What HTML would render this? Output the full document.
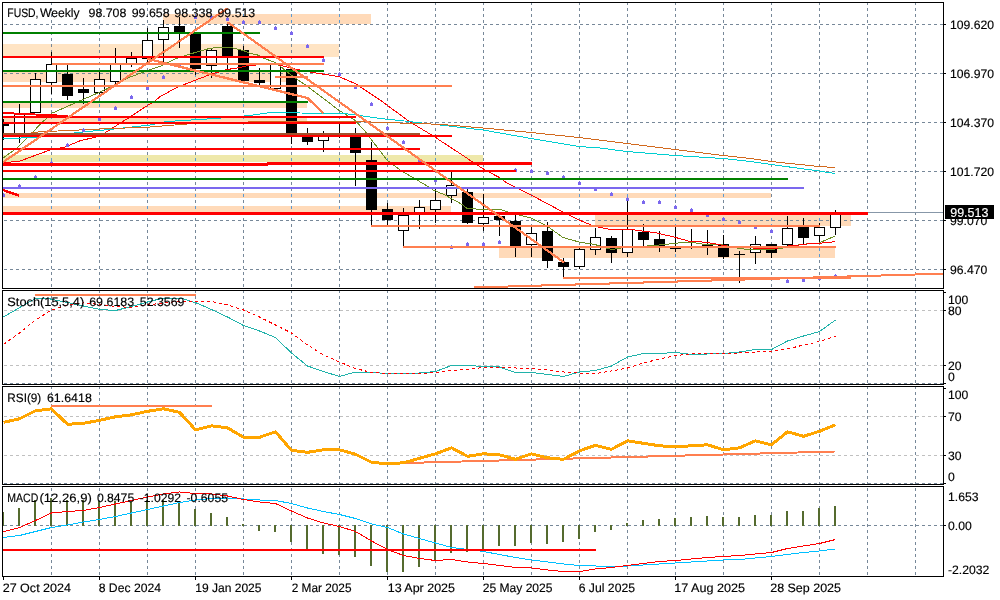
<!DOCTYPE html>
<html><head><meta charset="utf-8"><title>FUSD Weekly</title>
<style>html,body{margin:0;padding:0;background:#fff;overflow:hidden}svg{display:block}</style>
</head><body>
<svg width="1000" height="600" viewBox="0 0 1000 600" shape-rendering="crispEdges" font-family="'Liberation Sans', sans-serif" font-size="12.2px">
<rect x="0" y="0" width="1000" height="600" fill="#FFFFFF"/>
<defs>
<clipPath id="cp0"><rect x="3" y="3" width="940" height="285"/></clipPath>
<clipPath id="cp1"><rect x="3" y="291" width="940" height="93"/></clipPath>
<clipPath id="cp2"><rect x="3" y="387" width="940" height="97"/></clipPath>
<clipPath id="cp3"><rect x="3" y="487" width="940" height="89"/></clipPath>
</defs>
<g clip-path="url(#cp0)">
<rect x="163" y="14" width="208" height="10" fill="#FFDAB9"/>
<rect x="3" y="44" width="336" height="13" fill="#FFE4C4"/>
<rect x="3" y="72" width="288" height="10" fill="#FFDAB9"/>
<rect x="3" y="103" width="304" height="5" fill="#FFDAB9"/>
<rect x="3" y="118" width="304" height="4" fill="#FFDAB9"/>
<rect x="3" y="155" width="480" height="7" fill="#EEE8AA"/>
<rect x="3" y="193" width="768" height="5" fill="#FFDAB9"/>
<rect x="3" y="206" width="448" height="6" fill="#FFDAB9"/>
<rect x="499" y="248" width="336" height="10" fill="#FFDAB9"/>
<rect x="595" y="215" width="256" height="11" fill="#FFDAB9"/>
</g>
<line x1="51.5" y1="2" x2="51.5" y2="288" stroke="#778899" stroke-width="1" stroke-dasharray="3 3"/>
<line x1="99.5" y1="2" x2="99.5" y2="288" stroke="#778899" stroke-width="1" stroke-dasharray="3 3"/>
<line x1="147.5" y1="2" x2="147.5" y2="288" stroke="#778899" stroke-width="1" stroke-dasharray="3 3"/>
<line x1="195.5" y1="2" x2="195.5" y2="288" stroke="#778899" stroke-width="1" stroke-dasharray="3 3"/>
<line x1="243.5" y1="2" x2="243.5" y2="288" stroke="#778899" stroke-width="1" stroke-dasharray="3 3"/>
<line x1="291.5" y1="2" x2="291.5" y2="288" stroke="#778899" stroke-width="1" stroke-dasharray="3 3"/>
<line x1="339.5" y1="2" x2="339.5" y2="288" stroke="#778899" stroke-width="1" stroke-dasharray="3 3"/>
<line x1="387.5" y1="2" x2="387.5" y2="288" stroke="#778899" stroke-width="1" stroke-dasharray="3 3"/>
<line x1="435.5" y1="2" x2="435.5" y2="288" stroke="#778899" stroke-width="1" stroke-dasharray="3 3"/>
<line x1="483.5" y1="2" x2="483.5" y2="288" stroke="#778899" stroke-width="1" stroke-dasharray="3 3"/>
<line x1="531.5" y1="2" x2="531.5" y2="288" stroke="#778899" stroke-width="1" stroke-dasharray="3 3"/>
<line x1="579.5" y1="2" x2="579.5" y2="288" stroke="#778899" stroke-width="1" stroke-dasharray="3 3"/>
<line x1="627.5" y1="2" x2="627.5" y2="288" stroke="#778899" stroke-width="1" stroke-dasharray="3 3"/>
<line x1="675.5" y1="2" x2="675.5" y2="288" stroke="#778899" stroke-width="1" stroke-dasharray="3 3"/>
<line x1="723.5" y1="2" x2="723.5" y2="288" stroke="#778899" stroke-width="1" stroke-dasharray="3 3"/>
<line x1="771.5" y1="2" x2="771.5" y2="288" stroke="#778899" stroke-width="1" stroke-dasharray="3 3"/>
<line x1="819.5" y1="2" x2="819.5" y2="288" stroke="#778899" stroke-width="1" stroke-dasharray="3 3"/>
<line x1="867.5" y1="2" x2="867.5" y2="288" stroke="#778899" stroke-width="1" stroke-dasharray="3 3"/>
<line x1="915.5" y1="2" x2="915.5" y2="288" stroke="#778899" stroke-width="1" stroke-dasharray="3 3"/>
<line x1="51.5" y1="290" x2="51.5" y2="384" stroke="#778899" stroke-width="1" stroke-dasharray="3 3"/>
<line x1="99.5" y1="290" x2="99.5" y2="384" stroke="#778899" stroke-width="1" stroke-dasharray="3 3"/>
<line x1="147.5" y1="290" x2="147.5" y2="384" stroke="#778899" stroke-width="1" stroke-dasharray="3 3"/>
<line x1="195.5" y1="290" x2="195.5" y2="384" stroke="#778899" stroke-width="1" stroke-dasharray="3 3"/>
<line x1="243.5" y1="290" x2="243.5" y2="384" stroke="#778899" stroke-width="1" stroke-dasharray="3 3"/>
<line x1="291.5" y1="290" x2="291.5" y2="384" stroke="#778899" stroke-width="1" stroke-dasharray="3 3"/>
<line x1="339.5" y1="290" x2="339.5" y2="384" stroke="#778899" stroke-width="1" stroke-dasharray="3 3"/>
<line x1="387.5" y1="290" x2="387.5" y2="384" stroke="#778899" stroke-width="1" stroke-dasharray="3 3"/>
<line x1="435.5" y1="290" x2="435.5" y2="384" stroke="#778899" stroke-width="1" stroke-dasharray="3 3"/>
<line x1="483.5" y1="290" x2="483.5" y2="384" stroke="#778899" stroke-width="1" stroke-dasharray="3 3"/>
<line x1="531.5" y1="290" x2="531.5" y2="384" stroke="#778899" stroke-width="1" stroke-dasharray="3 3"/>
<line x1="579.5" y1="290" x2="579.5" y2="384" stroke="#778899" stroke-width="1" stroke-dasharray="3 3"/>
<line x1="627.5" y1="290" x2="627.5" y2="384" stroke="#778899" stroke-width="1" stroke-dasharray="3 3"/>
<line x1="675.5" y1="290" x2="675.5" y2="384" stroke="#778899" stroke-width="1" stroke-dasharray="3 3"/>
<line x1="723.5" y1="290" x2="723.5" y2="384" stroke="#778899" stroke-width="1" stroke-dasharray="3 3"/>
<line x1="771.5" y1="290" x2="771.5" y2="384" stroke="#778899" stroke-width="1" stroke-dasharray="3 3"/>
<line x1="819.5" y1="290" x2="819.5" y2="384" stroke="#778899" stroke-width="1" stroke-dasharray="3 3"/>
<line x1="867.5" y1="290" x2="867.5" y2="384" stroke="#778899" stroke-width="1" stroke-dasharray="3 3"/>
<line x1="915.5" y1="290" x2="915.5" y2="384" stroke="#778899" stroke-width="1" stroke-dasharray="3 3"/>
<line x1="51.5" y1="386" x2="51.5" y2="484" stroke="#778899" stroke-width="1" stroke-dasharray="3 3"/>
<line x1="99.5" y1="386" x2="99.5" y2="484" stroke="#778899" stroke-width="1" stroke-dasharray="3 3"/>
<line x1="147.5" y1="386" x2="147.5" y2="484" stroke="#778899" stroke-width="1" stroke-dasharray="3 3"/>
<line x1="195.5" y1="386" x2="195.5" y2="484" stroke="#778899" stroke-width="1" stroke-dasharray="3 3"/>
<line x1="243.5" y1="386" x2="243.5" y2="484" stroke="#778899" stroke-width="1" stroke-dasharray="3 3"/>
<line x1="291.5" y1="386" x2="291.5" y2="484" stroke="#778899" stroke-width="1" stroke-dasharray="3 3"/>
<line x1="339.5" y1="386" x2="339.5" y2="484" stroke="#778899" stroke-width="1" stroke-dasharray="3 3"/>
<line x1="387.5" y1="386" x2="387.5" y2="484" stroke="#778899" stroke-width="1" stroke-dasharray="3 3"/>
<line x1="435.5" y1="386" x2="435.5" y2="484" stroke="#778899" stroke-width="1" stroke-dasharray="3 3"/>
<line x1="483.5" y1="386" x2="483.5" y2="484" stroke="#778899" stroke-width="1" stroke-dasharray="3 3"/>
<line x1="531.5" y1="386" x2="531.5" y2="484" stroke="#778899" stroke-width="1" stroke-dasharray="3 3"/>
<line x1="579.5" y1="386" x2="579.5" y2="484" stroke="#778899" stroke-width="1" stroke-dasharray="3 3"/>
<line x1="627.5" y1="386" x2="627.5" y2="484" stroke="#778899" stroke-width="1" stroke-dasharray="3 3"/>
<line x1="675.5" y1="386" x2="675.5" y2="484" stroke="#778899" stroke-width="1" stroke-dasharray="3 3"/>
<line x1="723.5" y1="386" x2="723.5" y2="484" stroke="#778899" stroke-width="1" stroke-dasharray="3 3"/>
<line x1="771.5" y1="386" x2="771.5" y2="484" stroke="#778899" stroke-width="1" stroke-dasharray="3 3"/>
<line x1="819.5" y1="386" x2="819.5" y2="484" stroke="#778899" stroke-width="1" stroke-dasharray="3 3"/>
<line x1="867.5" y1="386" x2="867.5" y2="484" stroke="#778899" stroke-width="1" stroke-dasharray="3 3"/>
<line x1="915.5" y1="386" x2="915.5" y2="484" stroke="#778899" stroke-width="1" stroke-dasharray="3 3"/>
<line x1="51.5" y1="482" x2="51.5" y2="576" stroke="#778899" stroke-width="1" stroke-dasharray="3 3"/>
<line x1="99.5" y1="482" x2="99.5" y2="576" stroke="#778899" stroke-width="1" stroke-dasharray="3 3"/>
<line x1="147.5" y1="482" x2="147.5" y2="576" stroke="#778899" stroke-width="1" stroke-dasharray="3 3"/>
<line x1="195.5" y1="482" x2="195.5" y2="576" stroke="#778899" stroke-width="1" stroke-dasharray="3 3"/>
<line x1="243.5" y1="482" x2="243.5" y2="576" stroke="#778899" stroke-width="1" stroke-dasharray="3 3"/>
<line x1="291.5" y1="482" x2="291.5" y2="576" stroke="#778899" stroke-width="1" stroke-dasharray="3 3"/>
<line x1="339.5" y1="482" x2="339.5" y2="576" stroke="#778899" stroke-width="1" stroke-dasharray="3 3"/>
<line x1="387.5" y1="482" x2="387.5" y2="576" stroke="#778899" stroke-width="1" stroke-dasharray="3 3"/>
<line x1="435.5" y1="482" x2="435.5" y2="576" stroke="#778899" stroke-width="1" stroke-dasharray="3 3"/>
<line x1="483.5" y1="482" x2="483.5" y2="576" stroke="#778899" stroke-width="1" stroke-dasharray="3 3"/>
<line x1="531.5" y1="482" x2="531.5" y2="576" stroke="#778899" stroke-width="1" stroke-dasharray="3 3"/>
<line x1="579.5" y1="482" x2="579.5" y2="576" stroke="#778899" stroke-width="1" stroke-dasharray="3 3"/>
<line x1="627.5" y1="482" x2="627.5" y2="576" stroke="#778899" stroke-width="1" stroke-dasharray="3 3"/>
<line x1="675.5" y1="482" x2="675.5" y2="576" stroke="#778899" stroke-width="1" stroke-dasharray="3 3"/>
<line x1="723.5" y1="482" x2="723.5" y2="576" stroke="#778899" stroke-width="1" stroke-dasharray="3 3"/>
<line x1="771.5" y1="482" x2="771.5" y2="576" stroke="#778899" stroke-width="1" stroke-dasharray="3 3"/>
<line x1="819.5" y1="482" x2="819.5" y2="576" stroke="#778899" stroke-width="1" stroke-dasharray="3 3"/>
<line x1="867.5" y1="482" x2="867.5" y2="576" stroke="#778899" stroke-width="1" stroke-dasharray="3 3"/>
<line x1="915.5" y1="482" x2="915.5" y2="576" stroke="#778899" stroke-width="1" stroke-dasharray="3 3"/>
<line x1="4" y1="24.5" x2="943" y2="24.5" stroke="#778899" stroke-width="1" stroke-dasharray="3 3"/>
<line x1="4" y1="73.5" x2="943" y2="73.5" stroke="#778899" stroke-width="1" stroke-dasharray="3 3"/>
<line x1="4" y1="122.5" x2="943" y2="122.5" stroke="#778899" stroke-width="1" stroke-dasharray="3 3"/>
<line x1="4" y1="171.5" x2="943" y2="171.5" stroke="#778899" stroke-width="1" stroke-dasharray="3 3"/>
<line x1="4" y1="220.5" x2="943" y2="220.5" stroke="#778899" stroke-width="1" stroke-dasharray="3 3"/>
<line x1="4" y1="269.5" x2="943" y2="269.5" stroke="#778899" stroke-width="1" stroke-dasharray="3 3"/>
<clipPath id="bandclip">
<rect x="163" y="14" width="208" height="10" fill="#000"/>
<rect x="3" y="72" width="288" height="10" fill="#000"/>
<rect x="3" y="103" width="304" height="5" fill="#000"/>
<rect x="3" y="118" width="304" height="4" fill="#000"/>
<rect x="3" y="155" width="480" height="7" fill="#000"/>
<rect x="3" y="193" width="768" height="5" fill="#000"/>
<rect x="3" y="206" width="448" height="6" fill="#000"/>
<rect x="499" y="248" width="336" height="10" fill="#000"/>
<rect x="595" y="215" width="256" height="11" fill="#000"/>
</clipPath>
<g clip-path="url(#bandclip)">
<line x1="51.5" y1="2" x2="51.5" y2="288" stroke="#5B9BD5" stroke-width="1" stroke-dasharray="3 3"/>
<line x1="99.5" y1="2" x2="99.5" y2="288" stroke="#5B9BD5" stroke-width="1" stroke-dasharray="3 3"/>
<line x1="147.5" y1="2" x2="147.5" y2="288" stroke="#5B9BD5" stroke-width="1" stroke-dasharray="3 3"/>
<line x1="195.5" y1="2" x2="195.5" y2="288" stroke="#5B9BD5" stroke-width="1" stroke-dasharray="3 3"/>
<line x1="243.5" y1="2" x2="243.5" y2="288" stroke="#5B9BD5" stroke-width="1" stroke-dasharray="3 3"/>
<line x1="291.5" y1="2" x2="291.5" y2="288" stroke="#5B9BD5" stroke-width="1" stroke-dasharray="3 3"/>
<line x1="339.5" y1="2" x2="339.5" y2="288" stroke="#5B9BD5" stroke-width="1" stroke-dasharray="3 3"/>
<line x1="387.5" y1="2" x2="387.5" y2="288" stroke="#5B9BD5" stroke-width="1" stroke-dasharray="3 3"/>
<line x1="435.5" y1="2" x2="435.5" y2="288" stroke="#5B9BD5" stroke-width="1" stroke-dasharray="3 3"/>
<line x1="483.5" y1="2" x2="483.5" y2="288" stroke="#5B9BD5" stroke-width="1" stroke-dasharray="3 3"/>
<line x1="531.5" y1="2" x2="531.5" y2="288" stroke="#5B9BD5" stroke-width="1" stroke-dasharray="3 3"/>
<line x1="579.5" y1="2" x2="579.5" y2="288" stroke="#5B9BD5" stroke-width="1" stroke-dasharray="3 3"/>
<line x1="627.5" y1="2" x2="627.5" y2="288" stroke="#5B9BD5" stroke-width="1" stroke-dasharray="3 3"/>
<line x1="675.5" y1="2" x2="675.5" y2="288" stroke="#5B9BD5" stroke-width="1" stroke-dasharray="3 3"/>
<line x1="723.5" y1="2" x2="723.5" y2="288" stroke="#5B9BD5" stroke-width="1" stroke-dasharray="3 3"/>
<line x1="771.5" y1="2" x2="771.5" y2="288" stroke="#5B9BD5" stroke-width="1" stroke-dasharray="3 3"/>
<line x1="819.5" y1="2" x2="819.5" y2="288" stroke="#5B9BD5" stroke-width="1" stroke-dasharray="3 3"/>
<line x1="867.5" y1="2" x2="867.5" y2="288" stroke="#5B9BD5" stroke-width="1" stroke-dasharray="3 3"/>
<line x1="915.5" y1="2" x2="915.5" y2="288" stroke="#5B9BD5" stroke-width="1" stroke-dasharray="3 3"/>
</g>
<g clip-path="url(#cp0)">
<rect x="3" y="119" width="1" height="21" fill="#000"/>
<rect x="-2" y="124" width="11" height="2" fill="#000"/>
<rect x="19" y="104" width="1" height="39" fill="#000"/>
<rect x="14" y="114" width="11" height="21" fill="#000"/>
<rect x="15" y="115" width="9" height="19" fill="#FFF"/>
<rect x="35" y="73" width="1" height="40" fill="#000"/>
<rect x="30" y="79" width="11" height="34" fill="#000"/>
<rect x="31" y="80" width="9" height="32" fill="#FFF"/>
<rect x="51" y="52" width="1" height="42" fill="#000"/>
<rect x="46" y="64" width="11" height="19" fill="#000"/>
<rect x="47" y="65" width="9" height="17" fill="#FFF"/>
<rect x="67" y="65" width="1" height="35" fill="#000"/>
<rect x="62" y="74" width="11" height="22" fill="#000"/>
<rect x="83" y="78" width="1" height="26" fill="#000"/>
<rect x="78" y="89" width="11" height="4" fill="#000"/>
<rect x="99" y="71" width="1" height="23" fill="#000"/>
<rect x="94" y="79" width="11" height="14" fill="#000"/>
<rect x="95" y="80" width="9" height="12" fill="#FFF"/>
<rect x="115" y="48" width="1" height="37" fill="#000"/>
<rect x="110" y="64" width="11" height="18" fill="#000"/>
<rect x="111" y="65" width="9" height="16" fill="#FFF"/>
<rect x="131" y="52" width="1" height="15" fill="#000"/>
<rect x="126" y="58" width="11" height="6" fill="#000"/>
<rect x="127" y="59" width="9" height="4" fill="#FFF"/>
<rect x="147" y="28" width="1" height="35" fill="#000"/>
<rect x="142" y="40" width="11" height="19" fill="#000"/>
<rect x="143" y="41" width="9" height="17" fill="#FFF"/>
<rect x="163" y="20" width="1" height="42" fill="#000"/>
<rect x="158" y="27" width="11" height="13" fill="#000"/>
<rect x="159" y="28" width="9" height="11" fill="#FFF"/>
<rect x="179" y="17" width="1" height="31" fill="#000"/>
<rect x="174" y="26" width="11" height="8" fill="#000"/>
<rect x="195" y="32" width="1" height="43" fill="#000"/>
<rect x="190" y="32" width="11" height="37" fill="#000"/>
<rect x="211" y="48" width="1" height="30" fill="#000"/>
<rect x="206" y="50" width="11" height="16" fill="#000"/>
<rect x="207" y="51" width="9" height="14" fill="#FFF"/>
<rect x="227" y="23" width="1" height="47" fill="#000"/>
<rect x="222" y="26" width="11" height="31" fill="#000"/>
<rect x="243" y="46" width="1" height="35" fill="#000"/>
<rect x="238" y="50" width="11" height="31" fill="#000"/>
<rect x="259" y="68" width="1" height="17" fill="#000"/>
<rect x="254" y="80" width="11" height="3" fill="#000"/>
<rect x="275" y="64" width="1" height="25" fill="#000"/>
<rect x="270" y="64" width="11" height="25" fill="#000"/>
<rect x="271" y="65" width="9" height="23" fill="#FFF"/>
<rect x="291" y="69" width="1" height="75" fill="#000"/>
<rect x="286" y="69" width="11" height="66" fill="#000"/>
<rect x="307" y="128" width="1" height="17" fill="#000"/>
<rect x="302" y="136" width="11" height="6" fill="#000"/>
<rect x="323" y="131" width="1" height="21" fill="#000"/>
<rect x="318" y="136" width="11" height="5" fill="#000"/>
<rect x="319" y="137" width="9" height="3" fill="#FFF"/>
<rect x="339" y="124" width="1" height="14" fill="#000"/>
<rect x="334" y="135" width="11" height="1" fill="#000"/>
<rect x="355" y="128" width="1" height="58" fill="#000"/>
<rect x="350" y="137" width="11" height="16" fill="#000"/>
<rect x="371" y="142" width="1" height="85" fill="#000"/>
<rect x="366" y="160" width="11" height="50" fill="#000"/>
<rect x="387" y="203" width="1" height="22" fill="#000"/>
<rect x="382" y="209" width="11" height="11" fill="#000"/>
<rect x="403" y="208" width="1" height="40" fill="#000"/>
<rect x="398" y="215" width="11" height="16" fill="#000"/>
<rect x="399" y="216" width="9" height="14" fill="#FFF"/>
<rect x="419" y="200" width="1" height="29" fill="#000"/>
<rect x="414" y="207" width="11" height="8" fill="#000"/>
<rect x="415" y="208" width="9" height="6" fill="#FFF"/>
<rect x="435" y="189" width="1" height="34" fill="#000"/>
<rect x="430" y="200" width="11" height="10" fill="#000"/>
<rect x="431" y="201" width="9" height="8" fill="#FFF"/>
<rect x="451" y="172" width="1" height="31" fill="#000"/>
<rect x="446" y="185" width="11" height="11" fill="#000"/>
<rect x="447" y="186" width="9" height="9" fill="#FFF"/>
<rect x="467" y="188" width="1" height="36" fill="#000"/>
<rect x="462" y="192" width="11" height="31" fill="#000"/>
<rect x="483" y="194" width="1" height="37" fill="#000"/>
<rect x="478" y="217" width="11" height="7" fill="#000"/>
<rect x="479" y="218" width="9" height="5" fill="#FFF"/>
<rect x="499" y="215" width="1" height="21" fill="#000"/>
<rect x="494" y="216" width="11" height="4" fill="#000"/>
<rect x="515" y="215" width="1" height="42" fill="#000"/>
<rect x="510" y="221" width="11" height="26" fill="#000"/>
<rect x="531" y="227" width="1" height="30" fill="#000"/>
<rect x="526" y="233" width="11" height="12" fill="#000"/>
<rect x="527" y="234" width="9" height="10" fill="#FFF"/>
<rect x="547" y="222" width="1" height="46" fill="#000"/>
<rect x="542" y="231" width="11" height="30" fill="#000"/>
<rect x="563" y="258" width="1" height="21" fill="#000"/>
<rect x="558" y="262" width="11" height="5" fill="#000"/>
<rect x="579" y="248" width="1" height="21" fill="#000"/>
<rect x="574" y="249" width="11" height="18" fill="#000"/>
<rect x="575" y="250" width="9" height="16" fill="#FFF"/>
<rect x="595" y="228" width="1" height="27" fill="#000"/>
<rect x="590" y="237" width="11" height="13" fill="#000"/>
<rect x="591" y="238" width="9" height="11" fill="#FFF"/>
<rect x="611" y="236" width="1" height="27" fill="#000"/>
<rect x="606" y="238" width="11" height="15" fill="#000"/>
<rect x="627" y="198" width="1" height="59" fill="#000"/>
<rect x="622" y="229" width="11" height="24" fill="#000"/>
<rect x="623" y="230" width="9" height="22" fill="#FFF"/>
<rect x="643" y="224" width="1" height="22" fill="#000"/>
<rect x="638" y="232" width="11" height="8" fill="#000"/>
<rect x="659" y="231" width="1" height="21" fill="#000"/>
<rect x="654" y="239" width="11" height="7" fill="#000"/>
<rect x="675" y="226" width="1" height="26" fill="#000"/>
<rect x="670" y="248" width="11" height="1" fill="#000"/>
<rect x="691" y="229" width="1" height="20" fill="#000"/>
<rect x="686" y="247" width="11" height="1" fill="#000"/>
<rect x="707" y="230" width="1" height="25" fill="#000"/>
<rect x="702" y="245" width="11" height="1" fill="#000"/>
<rect x="723" y="235" width="1" height="24" fill="#000"/>
<rect x="718" y="244" width="11" height="13" fill="#000"/>
<rect x="739" y="251" width="1" height="32" fill="#000"/>
<rect x="734" y="254" width="11" height="1" fill="#000"/>
<rect x="755" y="236" width="1" height="28" fill="#000"/>
<rect x="750" y="244" width="11" height="9" fill="#000"/>
<rect x="751" y="245" width="9" height="7" fill="#FFF"/>
<rect x="771" y="244" width="1" height="14" fill="#000"/>
<rect x="766" y="244" width="11" height="9" fill="#000"/>
<rect x="787" y="216" width="1" height="31" fill="#000"/>
<rect x="782" y="228" width="11" height="17" fill="#000"/>
<rect x="783" y="229" width="9" height="15" fill="#FFF"/>
<rect x="803" y="218" width="1" height="27" fill="#000"/>
<rect x="798" y="227" width="11" height="11" fill="#000"/>
<rect x="819" y="223" width="1" height="21" fill="#000"/>
<rect x="814" y="227" width="11" height="9" fill="#000"/>
<rect x="815" y="228" width="9" height="7" fill="#FFF"/>
<rect x="835" y="210" width="1" height="25" fill="#000"/>
<rect x="830" y="213" width="11" height="15" fill="#000"/>
<rect x="831" y="214" width="9" height="13" fill="#FFF"/>
<polyline points="3,158 17,148 27.5,137.5 40,124.6 51.7,113.3 75,103 100,92 110.8,87 129,77.5 149,70 160,66.5 168,62.5 176.7,58.3 186.7,55 201,50.8 210,48.3 222,47 230,47.3 243,50.4 250,53.3 257.5,55 264,58.3 275,62.5 280,66 290,74.2 297,79.2 308.3,87 339,110.3 355,120.3 364,130 387,160 400,170 417,180 427.5,186.25 433.3,190 445,195 451.7,198.75 461.7,204.2 467,208.3 483,209.5 500,209.5 515,214 531,218 547,226 563,237.5 579,242 595,244.5 606.7,248.3 613.3,249.6 617.5,248.3 627,247.5 655,245.4 663,244.6 671.7,243.75 683,242.5 695,242.5 697,243.3 704,244.2 715,244.2 723,245 739,248.5 755,250 771,249.5 787,247.5 800,244.5 819,243 835,236" fill="none" stroke="#6B8E23" stroke-width="1" />
<polyline points="3,163 20,161 50,150 65,147 80,140.8 100,136 130,117 141.7,109.2 155,100.8 160,96.7 176.7,87.5 195.8,80 210,74.6 218.3,72.1 226.7,69.6 240,67.5 247.5,65.6 255,65.2 258,64.5 278,64.5 281.5,65.7 287,67 297.5,69.6 313,72.6 320,73.6 339.5,76.8 356,84 380,100 410,122 436,137.6 440,140.5 460,153.5 472.6,162 484,169.4 498.8,177.2 507,183 531,195 563,212 579,220 595,226.5 604,228.2 609,229.2 633,229.8 647.5,231.7 655.8,232.7 675,237.3 690,241.5 700,241.7 715,243.75 723,245.5 735,247 764,248.6 775,248.6 783,247 791,245.4 799,245 807,244 815,243.4 830,242.5 835,241.2" fill="none" stroke="#FF0000" stroke-width="1" />
<polyline points="3,139 40,137 87,131.5 100,130.5 150,125 167,121.5 215,118.5 250,115.5 270,112.5 300,113 343,113.3 356,115 380,118.5 400,120.5 440,125 483,130 531,138.5 579,146.5 600,148 627,151.5 675,155.5 723,158.5 750,161.5 771,164.5 819,171 835,173.5" fill="none" stroke="#00CED1" stroke-width="1" />
<polyline points="31,132.4 43,131.7 100,129 150,127 187,124 230,122.5 267,121.5 356,121.5 400,123 440,124.3 483,128 531,132.5 579,137.5 627,143.5 675,149.5 723,155.5 750,158.5 771,161.5 819,166.5 835,167.5" fill="none" stroke="#D2691E" stroke-width="1" />
<rect x="2" y="194" width="3" height="3" fill="#7B68EE"/>
<rect x="3" y="193" width="1" height="1" fill="#7B68EE"/>
<rect x="18" y="185" width="3" height="3" fill="#7B68EE"/>
<rect x="19" y="184" width="1" height="1" fill="#7B68EE"/>
<rect x="34" y="176" width="3" height="3" fill="#7B68EE"/>
<rect x="35" y="175" width="1" height="1" fill="#7B68EE"/>
<rect x="50" y="162" width="3" height="3" fill="#7B68EE"/>
<rect x="51" y="161" width="1" height="1" fill="#7B68EE"/>
<rect x="66" y="144" width="3" height="3" fill="#7B68EE"/>
<rect x="67" y="143" width="1" height="1" fill="#7B68EE"/>
<rect x="82" y="129" width="3" height="3" fill="#7B68EE"/>
<rect x="83" y="128" width="1" height="1" fill="#7B68EE"/>
<rect x="98" y="118" width="3" height="3" fill="#7B68EE"/>
<rect x="99" y="117" width="1" height="1" fill="#7B68EE"/>
<rect x="114" y="107" width="3" height="3" fill="#7B68EE"/>
<rect x="115" y="106" width="1" height="1" fill="#7B68EE"/>
<rect x="130" y="96" width="3" height="3" fill="#7B68EE"/>
<rect x="131" y="95" width="1" height="1" fill="#7B68EE"/>
<rect x="146" y="87" width="3" height="3" fill="#7B68EE"/>
<rect x="147" y="86" width="1" height="1" fill="#7B68EE"/>
<rect x="162" y="76" width="3" height="3" fill="#7B68EE"/>
<rect x="163" y="75" width="1" height="1" fill="#7B68EE"/>
<rect x="178" y="65" width="3" height="3" fill="#7B68EE"/>
<rect x="179" y="64" width="1" height="1" fill="#7B68EE"/>
<rect x="194" y="16" width="3" height="3" fill="#7B68EE"/>
<rect x="195" y="15" width="1" height="1" fill="#7B68EE"/>
<rect x="210" y="16" width="3" height="3" fill="#7B68EE"/>
<rect x="211" y="15" width="1" height="1" fill="#7B68EE"/>
<rect x="226" y="18" width="3" height="3" fill="#7B68EE"/>
<rect x="227" y="17" width="1" height="1" fill="#7B68EE"/>
<rect x="242" y="21" width="3" height="3" fill="#7B68EE"/>
<rect x="243" y="20" width="1" height="1" fill="#7B68EE"/>
<rect x="258" y="21" width="3" height="3" fill="#7B68EE"/>
<rect x="259" y="20" width="1" height="1" fill="#7B68EE"/>
<rect x="274" y="27" width="3" height="3" fill="#7B68EE"/>
<rect x="275" y="26" width="1" height="1" fill="#7B68EE"/>
<rect x="290" y="32" width="3" height="3" fill="#7B68EE"/>
<rect x="291" y="31" width="1" height="1" fill="#7B68EE"/>
<rect x="306" y="45" width="3" height="3" fill="#7B68EE"/>
<rect x="307" y="44" width="1" height="1" fill="#7B68EE"/>
<rect x="322" y="59" width="3" height="3" fill="#7B68EE"/>
<rect x="323" y="58" width="1" height="1" fill="#7B68EE"/>
<rect x="338" y="73" width="3" height="3" fill="#7B68EE"/>
<rect x="339" y="72" width="1" height="1" fill="#7B68EE"/>
<rect x="354" y="86" width="3" height="3" fill="#7B68EE"/>
<rect x="355" y="85" width="1" height="1" fill="#7B68EE"/>
<rect x="370" y="103" width="3" height="3" fill="#7B68EE"/>
<rect x="371" y="102" width="1" height="1" fill="#7B68EE"/>
<rect x="386" y="127" width="3" height="3" fill="#7B68EE"/>
<rect x="387" y="126" width="1" height="1" fill="#7B68EE"/>
<rect x="402" y="141" width="3" height="3" fill="#7B68EE"/>
<rect x="403" y="140" width="1" height="1" fill="#7B68EE"/>
<rect x="418" y="160" width="3" height="3" fill="#7B68EE"/>
<rect x="419" y="159" width="1" height="1" fill="#7B68EE"/>
<rect x="434" y="179" width="3" height="3" fill="#7B68EE"/>
<rect x="435" y="178" width="1" height="1" fill="#7B68EE"/>
<rect x="450" y="246" width="3" height="3" fill="#7B68EE"/>
<rect x="451" y="245" width="1" height="1" fill="#7B68EE"/>
<rect x="466" y="243" width="3" height="3" fill="#7B68EE"/>
<rect x="467" y="242" width="1" height="1" fill="#7B68EE"/>
<rect x="482" y="243" width="3" height="3" fill="#7B68EE"/>
<rect x="483" y="242" width="1" height="1" fill="#7B68EE"/>
<rect x="498" y="241" width="3" height="3" fill="#7B68EE"/>
<rect x="499" y="240" width="1" height="1" fill="#7B68EE"/>
<rect x="514" y="169" width="3" height="3" fill="#7B68EE"/>
<rect x="515" y="168" width="1" height="1" fill="#7B68EE"/>
<rect x="530" y="170" width="3" height="3" fill="#7B68EE"/>
<rect x="531" y="169" width="1" height="1" fill="#7B68EE"/>
<rect x="546" y="172" width="3" height="3" fill="#7B68EE"/>
<rect x="547" y="171" width="1" height="1" fill="#7B68EE"/>
<rect x="562" y="176" width="3" height="3" fill="#7B68EE"/>
<rect x="563" y="175" width="1" height="1" fill="#7B68EE"/>
<rect x="578" y="182" width="3" height="3" fill="#7B68EE"/>
<rect x="579" y="181" width="1" height="1" fill="#7B68EE"/>
<rect x="594" y="188" width="3" height="3" fill="#7B68EE"/>
<rect x="595" y="187" width="1" height="1" fill="#7B68EE"/>
<rect x="610" y="193" width="3" height="3" fill="#7B68EE"/>
<rect x="611" y="192" width="1" height="1" fill="#7B68EE"/>
<rect x="626" y="198" width="3" height="3" fill="#7B68EE"/>
<rect x="627" y="197" width="1" height="1" fill="#7B68EE"/>
<rect x="642" y="201" width="3" height="3" fill="#7B68EE"/>
<rect x="643" y="200" width="1" height="1" fill="#7B68EE"/>
<rect x="658" y="201" width="3" height="3" fill="#7B68EE"/>
<rect x="659" y="200" width="1" height="1" fill="#7B68EE"/>
<rect x="674" y="206" width="3" height="3" fill="#7B68EE"/>
<rect x="675" y="205" width="1" height="1" fill="#7B68EE"/>
<rect x="690" y="209" width="3" height="3" fill="#7B68EE"/>
<rect x="691" y="208" width="1" height="1" fill="#7B68EE"/>
<rect x="706" y="214" width="3" height="3" fill="#7B68EE"/>
<rect x="707" y="213" width="1" height="1" fill="#7B68EE"/>
<rect x="722" y="218" width="3" height="3" fill="#7B68EE"/>
<rect x="723" y="217" width="1" height="1" fill="#7B68EE"/>
<rect x="738" y="221" width="3" height="3" fill="#7B68EE"/>
<rect x="739" y="220" width="1" height="1" fill="#7B68EE"/>
<rect x="754" y="226" width="3" height="3" fill="#7B68EE"/>
<rect x="755" y="225" width="1" height="1" fill="#7B68EE"/>
<rect x="770" y="230" width="3" height="3" fill="#7B68EE"/>
<rect x="771" y="229" width="1" height="1" fill="#7B68EE"/>
<rect x="786" y="280" width="3" height="3" fill="#7B68EE"/>
<rect x="787" y="279" width="1" height="1" fill="#7B68EE"/>
<rect x="802" y="279" width="3" height="3" fill="#7B68EE"/>
<rect x="803" y="278" width="1" height="1" fill="#7B68EE"/>
<rect x="818" y="277" width="3" height="3" fill="#7B68EE"/>
<rect x="819" y="276" width="1" height="1" fill="#7B68EE"/>
<rect x="834" y="275" width="3" height="3" fill="#7B68EE"/>
<rect x="835" y="274" width="1" height="1" fill="#7B68EE"/>
<rect x="3" y="32" width="257" height="2" fill="#008000"/>
<rect x="3" y="56" width="321" height="2" fill="#FF0000"/>
<rect x="52" y="63" width="272" height="2" fill="#FF7F50"/>
<rect x="3" y="70" width="321" height="2" fill="#008000"/>
<rect x="275" y="76" width="33" height="2" fill="#FF7F50"/>
<rect x="3" y="85" width="449" height="2" fill="#FF7F50"/>
<rect x="3" y="101" width="305" height="2" fill="#008000"/>
<rect x="3" y="116" width="353" height="2" fill="#FF0000"/>
<rect x="3" y="122" width="353" height="2" fill="#FF0000"/>
<rect x="3" y="133" width="417" height="2" fill="#A0522D"/>
<rect x="3" y="135" width="449" height="2" fill="#FF0000"/>
<rect x="3" y="148" width="417" height="2" fill="#FF0000"/>
<rect x="3" y="163" width="265" height="3" fill="#FF0000"/>
<rect x="267" y="162" width="265" height="3" fill="#FF0000"/>
<rect x="3" y="170" width="513" height="2" fill="#FF0000"/>
<rect x="3" y="178" width="785" height="2" fill="#008000"/>
<rect x="3" y="187" width="801" height="2" fill="#7B68EE"/>
<rect x="3" y="212" width="865" height="3" fill="#FF0000"/>
<rect x="371" y="225" width="449" height="2" fill="#FF7F50"/>
<rect x="403" y="246" width="433" height="2" fill="#FF7F50"/>
<rect x="563" y="277" width="288" height="2" fill="#FF7F50"/>
<line x1="3" y1="113" x2="67.5" y2="116" stroke="#FF0000" stroke-width="2" />
<line x1="3" y1="190" x2="19" y2="195.5" stroke="#FF0000" stroke-width="2.5" />
<line x1="474" y1="287.5" x2="943" y2="273.7" stroke="#FF7F50" stroke-width="2" />
<line x1="3" y1="162.2" x2="227.5" y2="8.2" stroke="#FF7F50" stroke-width="2.2" />
<line x1="227.5" y1="22.2" x2="564" y2="262.4" stroke="#FF7F50" stroke-width="2.2" />
<polyline points="147,58.7 307.5,98 323.5,113.5" fill="none" stroke="#FF7F50" stroke-width="2.3" />
</g>
<rect x="868" y="212" width="75" height="1" fill="#8797A8"/>
<line x1="4" y1="310.5" x2="943" y2="310.5" stroke="#C0C0C0" stroke-width="1" stroke-dasharray="3 3"/>
<line x1="4" y1="365.5" x2="943" y2="365.5" stroke="#C0C0C0" stroke-width="1" stroke-dasharray="3 3"/>
<line x1="4" y1="383.5" x2="943" y2="383.5" stroke="#778899" stroke-width="1" stroke-dasharray="3 3"/>
<g clip-path="url(#cp1)">
<polyline points="3.5,317 20.5,307 35.5,298.5 50.5,299 67.5,302.5 83.5,306 100.5,309.5 115.5,310.5 131.5,306.5 147.5,302 163.5,298 180.5,298 196.5,303 211.5,309.5 227.5,317 243.5,325.5 259.5,331 275.5,337.5 291.5,353 307.5,366 323.5,371.5 339.5,376.5 355.5,372 371.5,372 387.5,374 403.5,373.5 419.5,373 435.5,371.5 451.5,365.5 467.5,365.5 483.5,366.5 499.5,367 515.5,372.5 531.5,372.5 547.5,374.5 563.5,376.5 579.5,372 595.5,370.5 611.5,366 627.5,357 643.5,353.5 659.5,353.5 675.5,352.5 691.5,354.5 707.5,354 723.5,353.5 739.5,352 755.5,349.5 771.5,349.5 787.5,341 803.5,336 819.5,331.5 835.5,320" fill="none" stroke="#20B2AA" stroke-width="1" />
<polyline points="3.5,344.4 19.5,333 35.5,320 51.5,310 67.5,305 83.5,303 100.5,304.5 115.5,306.5 131.5,307.5 147.5,305 163.5,303 180.5,301 196.5,301.5 211.5,301.5 227.5,305 243.5,310 259.5,317 275.5,325 291.5,333 307.5,345 323.5,355 339.5,362 355.5,368.5 371.5,372.5 387.5,373.5 403.5,373.5 419.5,373.5 435.5,372.5 451.5,370.5 467.5,369.5 483.5,367.5 499.5,367 515.5,368 531.5,368.5 547.5,370 563.5,372 579.5,373 595.5,373.5 611.5,371 627.5,368 643.5,363 659.5,359 675.5,355.5 691.5,354 723.5,353.5 739.5,353 755.5,352 771.5,351.5 787.5,349 803.5,345 819.5,341.5 835.5,336" fill="none" stroke="#FF0000" stroke-width="1" stroke-dasharray="3 3"/>
<rect x="35" y="294" width="161" height="2" fill="#FF7F50"/>
</g>
<line x1="4" y1="416.5" x2="943" y2="416.5" stroke="#C0C0C0" stroke-width="1" stroke-dasharray="3 3"/>
<line x1="4" y1="455.5" x2="943" y2="455.5" stroke="#C0C0C0" stroke-width="1" stroke-dasharray="3 3"/>
<line x1="4" y1="483.5" x2="943" y2="483.5" stroke="#778899" stroke-width="1" stroke-dasharray="3 3"/>
<g clip-path="url(#cp2)">
<rect x="51" y="405" width="161" height="2" fill="#FF7F50"/>
<line x1="387" y1="463.5" x2="835" y2="451.5" stroke="#FF7F50" stroke-width="2" />
<polyline points="3.5,422.3 19.5,418.8 35.5,410.8 51.5,408.8 67.5,424.3 83.5,423.3 99.5,420.3 115.5,416.8 131.5,414.8 147.5,411.3 163.5,408.8 179.5,412.3 195.5,429.8 211.5,425.8 227.5,427.8 243.5,437.3 259.5,437.3 275.5,431.8 291.5,450.3 307.5,452.3 323.5,449.8 339.5,449.8 355.5,454.3 371.5,462.3 387.5,463.8 403.5,462.8 419.5,458.3 435.5,453.8 451.5,447.8 467.5,456.3 483.5,453.8 499.5,454.8 515.5,459.3 531.5,453.8 547.5,457.8 563.5,459.3 579.5,450.8 595.5,445.3 611.5,449.3 627.5,440.8 643.5,443.3 659.5,445.8 675.5,446.8 691.5,445.8 707.5,444.8 723.5,449.8 739.5,447.8 755.5,440.8 771.5,444.8 787.5,431.8 803.5,436.3 819.5,431.3 835.5,424.8" fill="none" stroke="#FFA500" stroke-width="3" stroke-linejoin="round"/>
</g>
<line x1="4" y1="525.5" x2="943" y2="525.5" stroke="#778899" stroke-width="1" stroke-dasharray="3 3"/>
<g clip-path="url(#cp3)">
<rect x="2" y="512" width="2" height="14" fill="#556B2F"/>
<rect x="18" y="508" width="2" height="18" fill="#556B2F"/>
<rect x="34" y="500" width="2" height="26" fill="#556B2F"/>
<rect x="50" y="498" width="2" height="28" fill="#556B2F"/>
<rect x="66" y="500" width="2" height="26" fill="#556B2F"/>
<rect x="82" y="500" width="2" height="26" fill="#556B2F"/>
<rect x="98" y="501" width="2" height="25" fill="#556B2F"/>
<rect x="114" y="501" width="2" height="25" fill="#556B2F"/>
<rect x="130" y="502" width="2" height="24" fill="#556B2F"/>
<rect x="146" y="500" width="2" height="26" fill="#556B2F"/>
<rect x="162" y="500" width="2" height="26" fill="#556B2F"/>
<rect x="178" y="502" width="2" height="24" fill="#556B2F"/>
<rect x="194" y="509" width="2" height="17" fill="#556B2F"/>
<rect x="210" y="513" width="2" height="13" fill="#556B2F"/>
<rect x="226" y="517" width="2" height="9" fill="#556B2F"/>
<rect x="242" y="524" width="2" height="2" fill="#556B2F"/>
<rect x="258" y="525" width="2" height="6" fill="#556B2F"/>
<rect x="274" y="525" width="2" height="7" fill="#556B2F"/>
<rect x="290" y="525" width="2" height="17" fill="#556B2F"/>
<rect x="306" y="525" width="2" height="24" fill="#556B2F"/>
<rect x="322" y="525" width="2" height="29" fill="#556B2F"/>
<rect x="338" y="525" width="2" height="30" fill="#556B2F"/>
<rect x="354" y="525" width="2" height="32" fill="#556B2F"/>
<rect x="370" y="525" width="2" height="41" fill="#556B2F"/>
<rect x="386" y="525" width="2" height="47" fill="#556B2F"/>
<rect x="402" y="525" width="2" height="47" fill="#556B2F"/>
<rect x="418" y="525" width="2" height="42" fill="#556B2F"/>
<rect x="434" y="525" width="2" height="35" fill="#556B2F"/>
<rect x="450" y="525" width="2" height="28" fill="#556B2F"/>
<rect x="466" y="525" width="2" height="27" fill="#556B2F"/>
<rect x="482" y="525" width="2" height="25" fill="#556B2F"/>
<rect x="498" y="525" width="2" height="21" fill="#556B2F"/>
<rect x="514" y="525" width="2" height="21" fill="#556B2F"/>
<rect x="530" y="525" width="2" height="18" fill="#556B2F"/>
<rect x="546" y="525" width="2" height="19" fill="#556B2F"/>
<rect x="562" y="525" width="2" height="17" fill="#556B2F"/>
<rect x="578" y="525" width="2" height="14" fill="#556B2F"/>
<rect x="594" y="525" width="2" height="7" fill="#556B2F"/>
<rect x="610" y="525" width="2" height="5" fill="#556B2F"/>
<rect x="626" y="523" width="2" height="3" fill="#556B2F"/>
<rect x="642" y="520" width="2" height="6" fill="#556B2F"/>
<rect x="658" y="519" width="2" height="7" fill="#556B2F"/>
<rect x="674" y="518" width="2" height="8" fill="#556B2F"/>
<rect x="690" y="517" width="2" height="9" fill="#556B2F"/>
<rect x="706" y="516" width="2" height="10" fill="#556B2F"/>
<rect x="722" y="517" width="2" height="9" fill="#556B2F"/>
<rect x="738" y="517" width="2" height="9" fill="#556B2F"/>
<rect x="754" y="515" width="2" height="11" fill="#556B2F"/>
<rect x="770" y="515" width="2" height="11" fill="#556B2F"/>
<rect x="786" y="511" width="2" height="15" fill="#556B2F"/>
<rect x="802" y="511" width="2" height="15" fill="#556B2F"/>
<rect x="818" y="508" width="2" height="18" fill="#556B2F"/>
<rect x="834" y="506" width="2" height="20" fill="#556B2F"/>
<polyline points="3.5,537.5 19.5,535.5 35.5,531.5 51.5,527.5 67.5,525 83.5,522 99.5,519.5 115.5,516.5 131.5,513 147.5,509.5 163.5,506 179.5,502.5 195.5,500 211.5,498.5 227.5,498 243.5,499 259.5,500 275.5,500.5 291.5,503.5 307.5,508 323.5,511.5 339.5,514.5 355.5,518.5 371.5,524 387.5,527.5 403.5,534 419.5,538.5 435.5,543 451.5,547.5 467.5,549.5 483.5,551.5 499.5,554.5 515.5,557.5 531.5,560 547.5,562 563.5,564 579.5,565.5 595.5,566 611.5,566.5 627.5,566 643.5,565 659.5,564 675.5,563 691.5,562 707.5,561 723.5,560 739.5,559.5 755.5,558 771.5,556.5 787.5,554.5 803.5,552.5 819.5,551 835.5,549" fill="none" stroke="#00BFFF" stroke-width="1" />
<polyline points="3.5,531.75 19.5,527.5 35.5,520.5 51.5,513 67.5,511.5 83.5,510.5 99.5,507.5 115.5,504 131.5,500.5 147.5,497 163.5,494 179.5,492 195.5,493.5 211.5,494 227.5,496 243.5,499.5 259.5,502 275.5,503.5 291.5,511 307.5,518 323.5,523 339.5,526.5 355.5,531.5 371.5,541 387.5,549.5 403.5,555.5 419.5,558.5 435.5,560.5 451.5,559.5 467.5,562 483.5,563.5 499.5,565.5 515.5,567.5 531.5,568 547.5,570 563.5,571.5 579.5,571.5 595.5,569 611.5,567.5 627.5,565.5 643.5,563.5 659.5,561.5 675.5,560.5 691.5,559 707.5,557.5 723.5,556.5 739.5,555.5 755.5,554 771.5,552.5 787.5,548.5 803.5,546 819.5,543.5 835.5,539.5" fill="none" stroke="#FF0000" stroke-width="1" />
<rect x="3" y="549" width="593" height="2" fill="#FF0000"/>
</g>
<rect x="2" y="2" width="942" height="1" fill="#000"/>
<rect x="2" y="288" width="942" height="1" fill="#000"/>
<rect x="2" y="2" width="1" height="287" fill="#000"/>
<rect x="2" y="290" width="942" height="1" fill="#000"/>
<rect x="2" y="384" width="942" height="1" fill="#000"/>
<rect x="2" y="290" width="1" height="95" fill="#000"/>
<rect x="2" y="386" width="942" height="1" fill="#000"/>
<rect x="2" y="484" width="942" height="1" fill="#000"/>
<rect x="2" y="386" width="1" height="99" fill="#000"/>
<rect x="2" y="486" width="942" height="1" fill="#000"/>
<rect x="2" y="576" width="942" height="1" fill="#000"/>
<rect x="2" y="486" width="1" height="91" fill="#000"/>
<rect x="943" y="2" width="1" height="287" fill="#000"/>
<rect x="943" y="290" width="1" height="95" fill="#000"/>
<rect x="943" y="386" width="1" height="99" fill="#000"/>
<rect x="943" y="486" width="1" height="91" fill="#000"/>
<rect x="943" y="24" width="3" height="1" fill="#000"/>
<rect x="943" y="73" width="3" height="1" fill="#000"/>
<rect x="943" y="122" width="3" height="1" fill="#000"/>
<rect x="943" y="171" width="3" height="1" fill="#000"/>
<rect x="943" y="220" width="3" height="1" fill="#000"/>
<rect x="943" y="269" width="3" height="1" fill="#000"/>
<rect x="943" y="292" width="3" height="1" fill="#000"/>
<rect x="943" y="310" width="3" height="1" fill="#000"/>
<rect x="943" y="365" width="3" height="1" fill="#000"/>
<rect x="943" y="383" width="3" height="1" fill="#000"/>
<rect x="943" y="388" width="3" height="1" fill="#000"/>
<rect x="943" y="416" width="3" height="1" fill="#000"/>
<rect x="943" y="455" width="3" height="1" fill="#000"/>
<rect x="943" y="483" width="3" height="1" fill="#000"/>
<rect x="943" y="525" width="3" height="1" fill="#000"/>
<rect x="3" y="576" width="1" height="4" fill="#000"/>
<rect x="99" y="576" width="1" height="4" fill="#000"/>
<rect x="195" y="576" width="1" height="4" fill="#000"/>
<rect x="291" y="576" width="1" height="4" fill="#000"/>
<rect x="387" y="576" width="1" height="4" fill="#000"/>
<rect x="483" y="576" width="1" height="4" fill="#000"/>
<rect x="579" y="576" width="1" height="4" fill="#000"/>
<rect x="675" y="576" width="1" height="4" fill="#000"/>
<rect x="771" y="576" width="1" height="4" fill="#000"/>
<g shape-rendering="auto" text-rendering="geometricPrecision" fill="#000" stroke="#000" stroke-width="0.15">
<text x="7.3" y="17" textLength="31.2" lengthAdjust="spacingAndGlyphs">FUSD,</text>
<text x="40" y="17" textLength="39.6" lengthAdjust="spacingAndGlyphs">Weekly</text>
<text x="88.5" y="17" textLength="37.9" lengthAdjust="spacingAndGlyphs">98.708</text>
<text x="131.7" y="17" textLength="37.9" lengthAdjust="spacingAndGlyphs">99.658</text>
<text x="174.2" y="17" textLength="38.3" lengthAdjust="spacingAndGlyphs">98.338</text>
<text x="217.5" y="17" textLength="37.7" lengthAdjust="spacingAndGlyphs">99.513</text>
<text x="7.3" y="306" textLength="76.9" lengthAdjust="spacingAndGlyphs">Stoch(15,5,4)</text>
<text x="89.2" y="306" textLength="45.0" lengthAdjust="spacingAndGlyphs">69.6183</text>
<text x="139.8" y="306" textLength="44.6" lengthAdjust="spacingAndGlyphs">52.3569</text>
<text x="7.3" y="402" textLength="34.0" lengthAdjust="spacingAndGlyphs">RSI(9)</text>
<text x="46.9" y="402" textLength="44.9" lengthAdjust="spacingAndGlyphs">61.6418</text>
<text x="7.3" y="502" textLength="31.0" lengthAdjust="spacingAndGlyphs">MACD</text>
<text x="39.4" y="502" textLength="52.4" lengthAdjust="spacingAndGlyphs">(12,26,9)</text>
<text x="96.9" y="502" textLength="37.3" lengthAdjust="spacingAndGlyphs">0.8475</text>
<text x="139.8" y="502" textLength="41.2" lengthAdjust="spacingAndGlyphs">-1.0292</text>
<text x="186.5" y="502" textLength="41.5" lengthAdjust="spacingAndGlyphs">-0.6055</text>
<text x="950" y="29" >109.620</text>
<text x="950" y="78" >106.970</text>
<text x="950" y="127" >104.370</text>
<text x="950" y="176" >101.720</text>
<text x="950" y="225" >99.070</text>
<text x="950" y="274" >96.470</text>
<text x="948" y="304" >100</text>
<text x="948" y="315" >80</text>
<text x="948" y="370" >20</text>
<text x="948" y="381" >0</text>
<text x="948" y="399" >100</text>
<text x="948" y="421" >70</text>
<text x="948" y="460" >30</text>
<text x="948" y="481" >0</text>
<text x="948" y="501" >1.653</text>
<text x="948" y="530" >0.00</text>
<text x="948" y="574" >-2.2032</text>
<text x="2.7" y="592" textLength="68.3" lengthAdjust="spacingAndGlyphs">27 Oct 2024</text>
<text x="98.7" y="592" textLength="62.3" lengthAdjust="spacingAndGlyphs">8 Dec 2024</text>
<text x="195.2" y="592" textLength="66.3" lengthAdjust="spacingAndGlyphs">19 Jan 2025</text>
<text x="291.7" y="592" textLength="59.8" lengthAdjust="spacingAndGlyphs">2 Mar 2025</text>
<text x="387.7" y="592" textLength="67.3" lengthAdjust="spacingAndGlyphs">13 Apr 2025</text>
<text x="482.7" y="592" textLength="69.8" lengthAdjust="spacingAndGlyphs">25 May 2025</text>
<text x="578.7" y="592" textLength="56.3" lengthAdjust="spacingAndGlyphs">6 Jul 2025</text>
<text x="674.2" y="592" textLength="70.8" lengthAdjust="spacingAndGlyphs">17 Aug 2025</text>
<text x="770.2" y="592" textLength="70.8" lengthAdjust="spacingAndGlyphs">28 Sep 2025</text>
</g>
<rect x="945" y="205" width="49" height="14" fill="#000"/>
<text x="950.2" y="217" fill="#FFF" stroke="#FFF" stroke-width="0.15" shape-rendering="auto" textLength="38.2" lengthAdjust="spacingAndGlyphs">99.513</text>
</svg>
</body></html>
